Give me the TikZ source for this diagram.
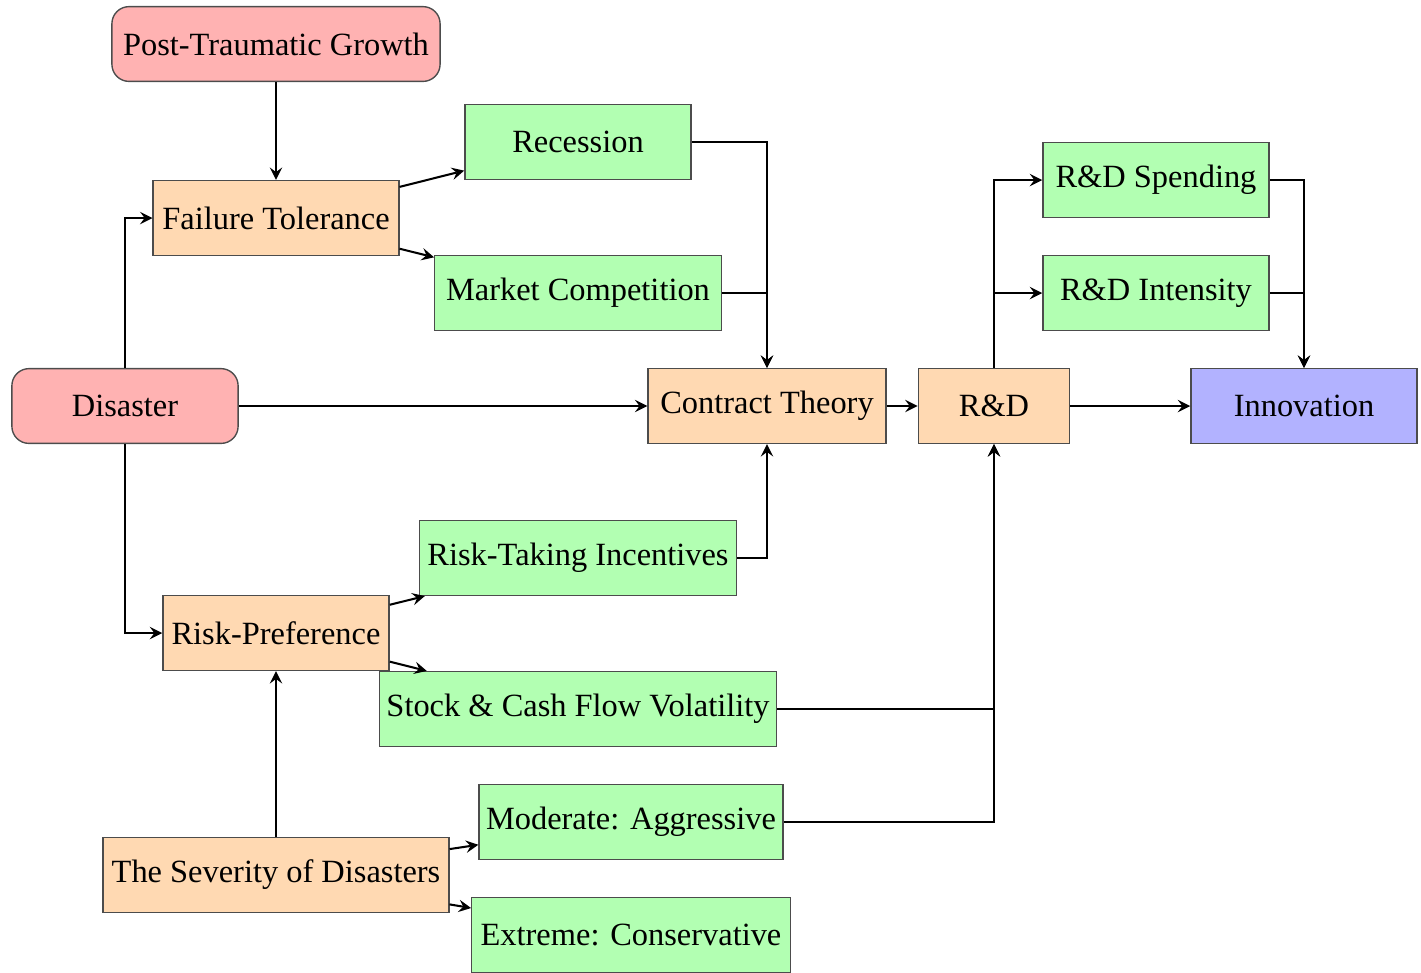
\documentclass[tikz,border=0pt]{standalone}
\usepackage{fontspec}
\setmainfont{Liberation Serif}
\usetikzlibrary{arrows}
\begin{document}
\begin{tikzpicture}[x=0.0103cm,y=-0.0103cm]
        \tikzstyle{every node}=[font=\fontsize{9.5pt}{11pt}\selectfont]
        \tikzstyle{box}=[draw=black!70, thin, minimum height=0.77cm, inner xsep=2pt]
        \tikzstyle{source}=[box, rounded corners=5pt, fill=red!30]
        \tikzstyle{mid}=[box, fill=orange!30]
        \tikzstyle{leaf}=[box, fill=green!30]
        \tikzstyle{goal}=[box, fill=blue!30]
        \tikzstyle{link}=[semithick, -stealth]
        \useasboundingbox (0,0) rectangle (1421,972);

        \node[source, minimum width=3.38cm] (ptg) at (276,44) {Post-Traumatic Growth};
        \node[mid, minimum width=2.53cm] (tol) at (276,218) {Failure Tolerance};
        \node[leaf, minimum width=2.33cm] (rec) at (578,142) {Recession};
        \node[leaf, minimum width=2.95cm] (comp) at (578,293) {Market Competition};
        \node[source, minimum width=2.33cm] (dis) at (125,406) {Disaster};
        \node[mid, minimum width=2.45cm] (ct) at (767,406) {Contract Theory};
        \node[mid, minimum width=1.56cm] (rd) at (994,406) {R\&D};
        \node[leaf, minimum width=2.33cm] (spend) at (1156,180) {R\&D Spending};
        \node[leaf, minimum width=2.33cm] (inten) at (1156,293) {R\&D Intensity};
        \node[goal, minimum width=2.33cm] (inno) at (1304,406) {Innovation};
        \node[leaf, minimum width=3.27cm] (rti) at (578,558) {Risk-Taking Incentives};
        \node[mid, minimum width=2.33cm] (pref) at (276,633) {Risk-Preference};
        \node[leaf, minimum width=4.07cm] (vol) at (578,709) {Stock \& Cash Flow Volatility};
        \node[leaf, minimum width=3.13cm] (mod) at (631,822) {Moderate: Aggressive};
        \node[mid, minimum width=3.56cm] (sev) at (276,875) {The Severity of Disasters};
        \node[leaf, minimum width=3.28cm] (ext) at (631,935) {Extreme: Conservative};

        \draw[link] (ptg) -- (tol);
        \draw[link] (tol) -- (rec);
        \draw[link] (tol) -- (comp);
        \draw[link] (dis.north) |- (tol.west);
        \draw[link] (dis) -- (ct);
        \draw[link] (dis.south) |- (pref.west);
        \draw[link] (rec.east) -| (ct.north);
        \draw[link] (comp.east) -| (ct.north);
        \draw[link] (rti.east) -| (ct.south);
        \draw[link] (ct) -- (rd);
        \draw[link] (pref) -- (rti);
        \draw[link] (pref) -- (vol);
        \draw[link] (sev) -- (pref);
        \draw[link] (sev) -- (mod);
        \draw[link] (sev) -- (ext);
        \draw[link] (vol.east) -| (rd.south);
        \draw[link] (mod.east) -| (rd.south);
        \draw[link] (rd.north) |- (spend.west);
        \draw[link] (rd.north) |- (inten.west);
        \draw[link] (rd) -- (inno);
        \draw[link] (spend.east) -| (inno.north);
        \draw[link] (inten.east) -| (inno.north);
\end{tikzpicture}
\end{document}
